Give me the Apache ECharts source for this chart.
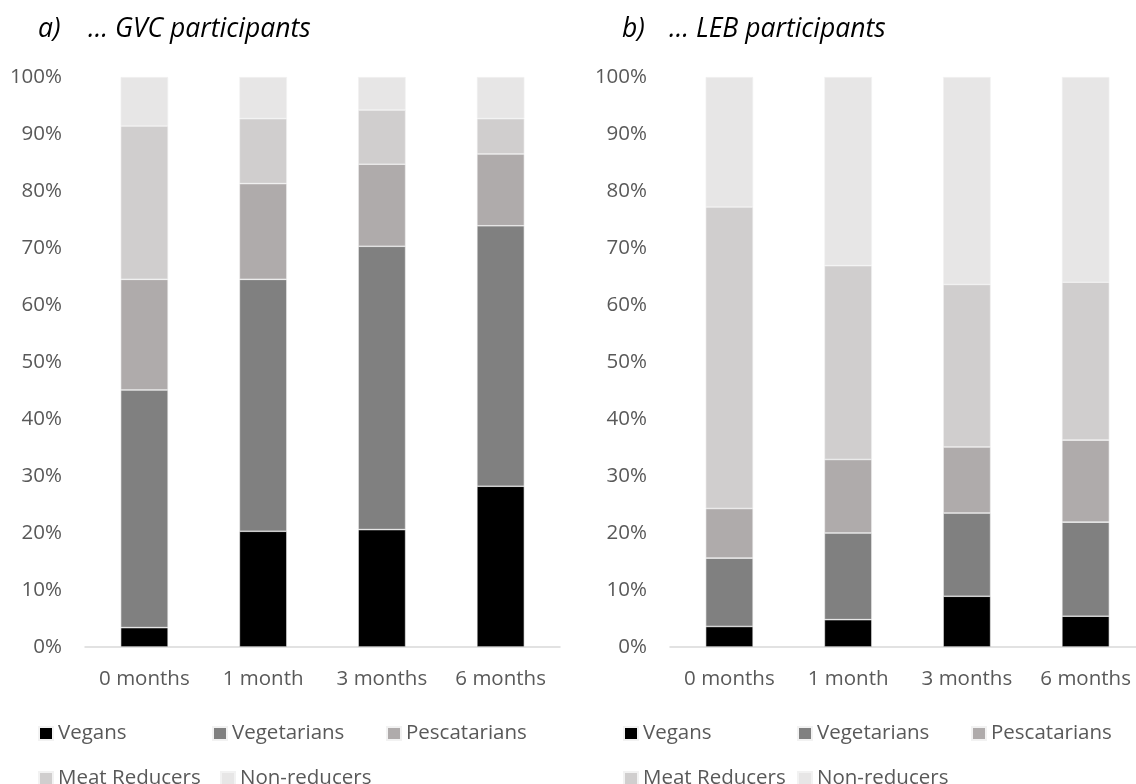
<!DOCTYPE html>
<html>
<head>
<meta charset="utf-8">
<script src="https://cdn.jsdelivr.net/npm/echarts@6/dist/echarts.min.js"></script>
<style>
html,body{margin:0;padding:0;background:#fff;overflow:hidden;width:1136px;height:784px;}
#chart{width:1150px;height:784px;}
</style>
</head>
<body>
<div id="chart"></div>
<script>
// ---- data ----
const categories = ['0 months', '1 month', '3 months', '6 months'];
const seriesNames = ['Vegans', 'Vegetarians', 'Pescatarians', 'Meat Reducers', 'Non-reducers'];
const yTicks = [0, 10, 20, 30, 40, 50, 60, 70, 80, 90, 100];

// a) GVC participants (%)
const gvcVegans        = [3.4, 20.3, 20.6, 28.2];
const gvcVegetarians   = [41.7, 44.2, 49.7, 45.7];
const gvcPescatarians  = [19.4, 16.8, 14.4, 12.6];
const gvcMeatReducers  = [26.9, 11.4, 9.5, 6.2];
const gvcNonReducers   = [8.6, 7.3, 5.8, 7.3];

// b) LEB participants (%)
const lebVegans        = [3.6, 4.8, 8.9, 5.4];
const lebVegetarians   = [12.0, 15.2, 14.6, 16.5];
const lebPescatarians  = [8.7, 12.9, 11.6, 14.4];
const lebMeatReducers  = [52.9, 34.0, 28.5, 27.7];
const lebNonReducers   = [22.8, 33.1, 36.4, 36.0];

// ---- styles ----
const colors = ['#000000', '#808080', '#AFABAB', '#D0CECE', '#E7E6E6'];
const FONT = '"Open Sans", "Noto Sans", sans-serif';
const FS = 20.5;
const TXT = '#595959';

const gvcData = [gvcVegans, gvcVegetarians, gvcPescatarians, gvcMeatReducers, gvcNonReducers];
const lebData = [lebVegans, lebVegetarians, lebPescatarians, lebMeatReducers, lebNonReducers];

const chart = echarts.init(document.getElementById('chart'), null, {renderer: 'canvas'});

function xAxis(gi) {
  return {
    type: 'category', gridIndex: gi, data: categories,
    axisLine: {lineStyle: {color: '#D9D9D9', width: 1.5}},
    axisTick: {show: false},
    axisLabel: {color: TXT, fontFamily: FONT, fontSize: FS, margin: 22, interval: 0}
  };
}
function yAxis(gi) {
  return {
    type: 'value', gridIndex: gi, min: yTicks[0], max: yTicks[yTicks.length - 1], interval: 10,
    axisLine: {show: false}, axisTick: {show: false}, splitLine: {show: false},
    axisLabel: {color: TXT, fontFamily: FONT, fontSize: FS, margin: 23, formatter: '{value}%'}
  };
}

const series = [];
[gvcData, lebData].forEach((panel, gi) => {
  panel.forEach((vals, si) => {
    series.push({
      type: 'bar', name: seriesNames[si], stack: 'p' + gi,
      xAxisIndex: gi, yAxisIndex: gi, data: vals, barWidth: '40%',
      itemStyle: {color: colors[si], borderColor: '#F2F2F2', borderWidth: 0.6},
      emphasis: {disabled: true}, animation: false
    });
  });
});

const legendPos = [
  // left panel
  {n: 0, left: 38, cy: 732}, {n: 1, left: 212, cy: 732}, {n: 2, left: 386, cy: 732},
  {n: 3, left: 38, cy: 777}, {n: 4, left: 220, cy: 777},
  // right panel
  {n: 0, left: 623, cy: 732}, {n: 1, left: 797, cy: 732}, {n: 2, left: 971, cy: 732},
  {n: 3, left: 623, cy: 777}, {n: 4, left: 797, cy: 777}
];
const legends = legendPos.map(p => ({
  data: [seriesNames[p.n]], left: p.left, top: p.cy - 9, padding: 0,
  icon: 'rect', itemWidth: 14, itemHeight: 13, selectedMode: false,
  textStyle: {color: TXT, fontFamily: FONT, fontSize: FS}
}));

const titleStyle = {color: '#000000', fontFamily: FONT, fontSize: 26.5, fontStyle: 'italic', fontWeight: 'normal'};
const titles = [
  {text: 'a)', left: 38, top: 16, textStyle: titleStyle, padding: 0},
  {text: '… GVC participants', left: 88, top: 16, textStyle: titleStyle, padding: 0},
  {text: 'b)', left: 622, top: 16, textStyle: titleStyle, padding: 0},
  {text: '… LEB participants', left: 669, top: 16, textStyle: titleStyle, padding: 0}
];

chart.setOption({
  animation: false,
  title: titles,
  legend: legends,
  grid: [
    {left: 85, top: 77, width: 475, height: 570, containLabel: false},
    {left: 670, top: 77, width: 475, height: 570, containLabel: false}
  ],
  xAxis: [xAxis(0), xAxis(1)],
  yAxis: [yAxis(0), yAxis(1)],
  series: series
});
</script>
</body>
</html>
